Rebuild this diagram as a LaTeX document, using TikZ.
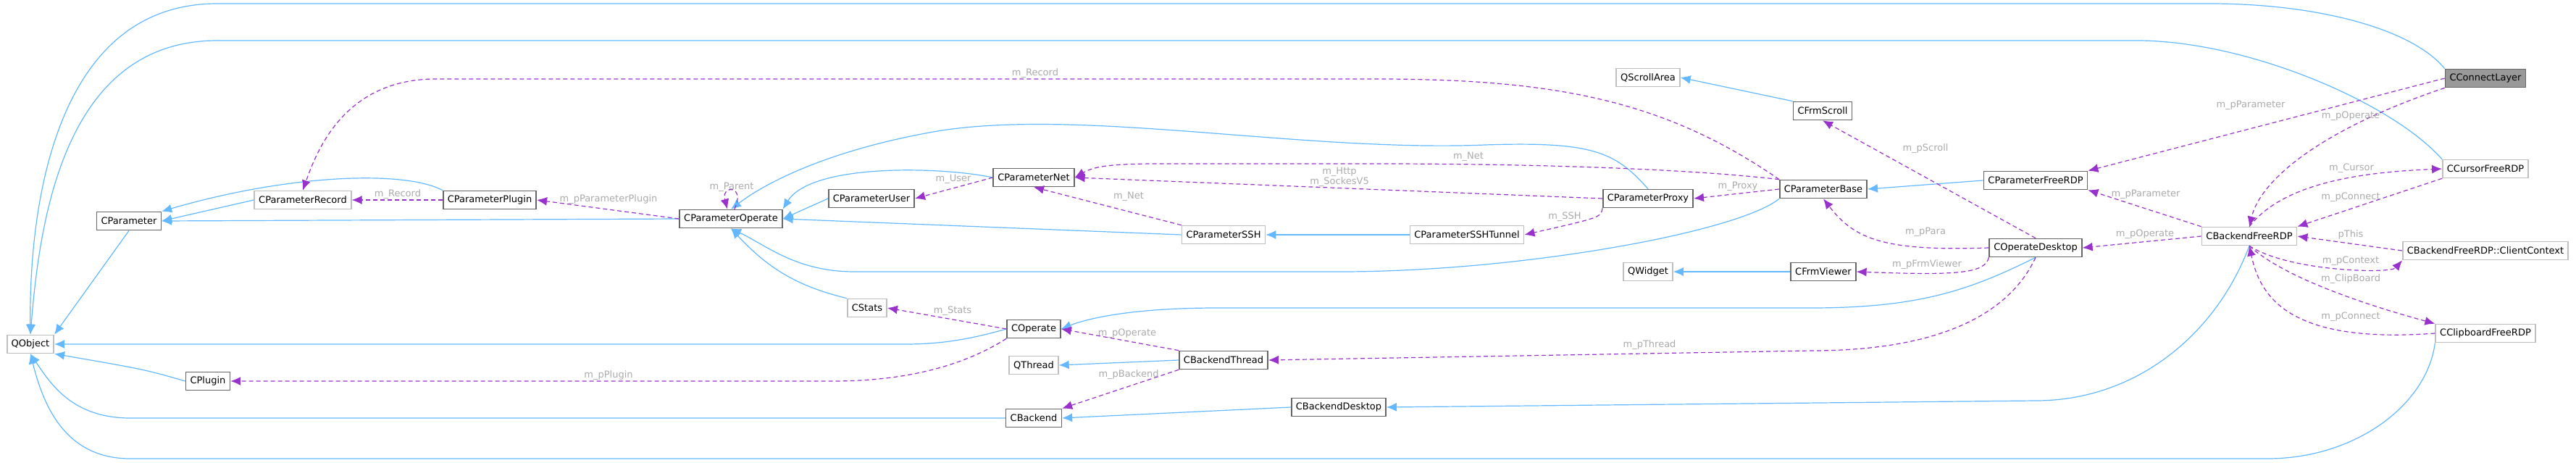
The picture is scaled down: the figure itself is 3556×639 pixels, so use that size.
\documentclass[tikz,border=0pt]{standalone}
\usepackage{fontspec}
\setmainfont{DejaVu Sans}
\usetikzlibrary{arrows.meta}

\definecolor{inhblue}{RGB}{99,184,255}
\definecolor{usepurple}{RGB}{153,50,204}
\definecolor{dkframe}{RGB}{102,102,102}
\definecolor{ltframe}{RGB}{191,191,191}
\definecolor{lblgray}{RGB}{170,170,170}

\tikzset{
  every picture/.style={line width=1.2pt},
  cls/.style={draw=dkframe, line width=1.6pt, fill=white, minimum height=25pt, inner xsep=6pt, font=\fontsize{13}{15}\selectfont},
  ext/.style={cls, draw=ltframe},
  inh/.style={draw=inhblue, -{Latex[length=14pt,width=12pt]}},
  use/.style={draw=usepurple, dashed, dash pattern={on 6pt off 4pt}, -{Latex[length=14pt,width=12pt]}},
  lbl/.style={text=lblgray, inner sep=0pt, font=\fontsize{13}{14}\selectfont, align=center}
}

\begin{document}
\begin{tikzpicture}[x=1pt,y=1pt,yscale=-1,xscale=1]
\useasboundingbox (0,0) rectangle (3556,639);

% classes
\node [ext] (qobj) at (42,475) {QObject};
\node [cls] (param) at (178,305) {CParameter};
\node [ext] (precord) at (418,276) {CParameterRecord};
\node [cls] (pplugin) at (676,276) {CParameterPlugin};
\node [cls] (poperate) at (1009,302) {CParameterOperate};
\node [cls] (plugin) at (287,526) {CPlugin};
\node [cls] (puser) at (1203,274) {CParameterUser};
\node [cls] (pnet) at (1427,245) {CParameterNet};
\node [ext] (pssh) at (1689,324) {CParameterSSH};
\node [ext] (ptunnel) at (2025,324) {CParameterSSHTunnel};
\node [cls] (pproxy) at (2275,274) {CParameterProxy};
\node [ext] (qscroll) at (2275,107) {QScrollArea};
\node [ext] (qwidget) at (2275,375) {QWidget};
\node [ext] (stats) at (1197,425) {CStats};
\node [cls] (operate) at (1427,454) {COperate};
\node [ext] (qthread) at (1427,504) {QThread};
\node [cls] (bthread) at (1689,497) {CBackendThread};
\node [cls] (backend) at (1427,577) {CBackend};
\node [cls] (bdesktop) at (1848,562) {CBackendDesktop};
\node [cls, fill={rgb,255:red,153;green,153;blue,153}] (clayer) at (3431,108) {CConnectLayer};
\node [cls] (fscroll) at (2516,153) {CFrmScroll};
\node [cls] (pfreerdp) at (2810,249) {CParameterFreeRDP};
\node [cls] (pbase) at (2517,261) {CParameterBase};
\node [ext] (cursor) at (3431,233) {CCursorFreeRDP};
\node [ext] (bfreerdp) at (3105,326) {CBackendFreeRDP};
\node [cls] (odesktop) at (2810,342) {COperateDesktop};
\node [cls] (fviewer) at (2517,375) {CFrmViewer};
\node [ext] (context) at (3431,346) {CBackendFreeRDP::ClientContext};
\node [ext] (clipboard) at (3431,460) {CClipboardFreeRDP};

% inheritance
\draw [inh] (clayer.north west) .. controls (3330,40) and (3200,5) .. (3050,5) -- (300,5) .. controls (70,5) and (40,300) .. (qobj.north);
\draw [inh] (cursor.north west) .. controls (3300,140) and (3100,56) .. (2950,56) -- (300,56) .. controls (90,56) and (55,300) .. (qobj.north);
\draw [inh] (clipboard.south west) .. controls (3350,560) and (3250,633) .. (3130,633) -- (180,633) .. controls (90,633) and (60,560) .. (qobj.south);
\draw [inh] (backend.west) -- (180,577) .. controls (100,577) and (70,530) .. (qobj.south);
\draw [inh] (operate.west) .. controls (1340,468) and (1300,475) .. (1250,475) -- (qobj.east);
\draw [inh] (plugin.west) .. controls (200,510) .. (qobj.south east);
\draw [inh] (param.south) -- (qobj.north east);
\draw [inh] (precord.west) -- (param.east);
\draw [inh] (pplugin.north west) .. controls (560,235) and (400,240) .. (param.north east);
\draw [inh] (poperate.west) -- (param.east);
\draw [inh] (puser.west) -- (poperate.east);
\draw [inh] (pnet.west) .. controls (1300,230) and (1120,225) .. (poperate.north east);
\draw [inh] (pproxy.north) .. controls (2230,210) and (2200,195) .. (2050,200) .. controls (1800,210) and (1500,150) .. (1300,180) .. controls (1150,205) and (1060,250) .. (poperate.north);
\draw [inh] (pssh.west) -- (poperate.east);
\draw [inh] (pbase.south west) .. controls (2400,320) and (2100,375) .. (1850,375) -- (1180,375) .. controls (1100,375) and (1060,340) .. (poperate.south);
\draw [inh] (stats.north west) .. controls (1100,395) and (1060,370) .. (poperate.south);
\draw [inh] (ptunnel.west) -- (pssh.east);
\draw [inh] (fscroll.north west) -- (qscroll.east);
\draw [inh] (fviewer.west) -- (qwidget.east);
\draw [inh] (pfreerdp.west) -- (pbase.east);
\draw [inh] (odesktop.south) .. controls (2720,400) and (2650,425) .. (2500,425) -- (1680,425) .. controls (1560,425) and (1500,440) .. (operate.east);
\draw [inh] (bthread.west) -- (qthread.east);
\draw [inh] (bdesktop.west) -- (backend.east);
\draw [inh] (bfreerdp.south) .. controls (3060,460) and (2950,553) .. (2810,553) -- (bdesktop.east);

% usage
\draw [use] (pbase.north west) .. controls (2300,140) and (2150,109) .. (1900,109) -- (600,109) .. controls (480,110) and (440,200) .. (precord.north);
\draw [use] (pplugin.west) -- (precord.east);
\draw [use] (poperate.west) -- (pplugin.east);
\draw [use] (poperate.70) .. controls (1030,255) and (995,255) .. (poperate.110);
\draw [use] (operate.south west) .. controls (1330,505) and (1250,526) .. (1150,526) -- (plugin.east);
\draw [use] (pnet.west) -- (puser.east);
\draw [use] (pbase.north west) .. controls (2350,235) and (2150,226) .. (1900,226) -- (1600,226) .. controls (1530,226) and (1510,230) .. (pnet.east);
\draw [use] (pproxy.west) -- (pnet.east);
\draw [use] (pssh.north west) -- (pnet.south);
\draw [use] (pproxy.south west) .. controls (2210,300) .. (ptunnel.east);
\draw [use] (pbase.west) -- (pproxy.east);
\draw [use] (operate.west) -- (stats.east);
\draw [use] (bthread.north west) -- (operate.east);
\draw [use] (bthread.south west) -- (backend.north east);
\draw [use] (odesktop.south) .. controls (2780,420) and (2700,484) .. (2500,484) -- (bthread.east);
\draw [use] (odesktop.north) -- (fscroll.south);
\draw [use] (odesktop.west) .. controls (2600,347) and (2560,330) .. (pbase.south);
\draw [use] (odesktop.south west) .. controls (2740,378) and (2700,380) .. (fviewer.east);
\draw [use] (bfreerdp.west) -- (odesktop.east);
\draw [use] (bfreerdp.north west) -- (pfreerdp.south east);
\draw [use] (clayer.west) -- (pfreerdp.north east);
\draw [use] (clayer.south west) .. controls (3200,180) and (3120,250) .. (bfreerdp.north);
\draw [use] (bfreerdp.north) .. controls (3150,255) and (3250,238) .. (cursor.west);
\draw [use] (cursor.south west) -- (bfreerdp.north east);
\draw [use] (context.west) -- (bfreerdp.east);
\draw [use] (bfreerdp.south) .. controls (3160,375) and (3300,378) .. (context.south west);
\draw [use] (bfreerdp.south) .. controls (3160,390) and (3300,430) .. (clipboard.north west);
\draw [use] (clipboard.west) .. controls (3160,475) and (3120,410) .. (bfreerdp.south);

% labels
\node [lbl] (lrec) at (1429,101) {m\_Record};
\node [lbl] (lrec2) at (549,268) {m\_Record};
\node [lbl] (lplug) at (840,275) {m\_pParameterPlugin};
\node [lbl] (lparent) at (1010,258) {m\_Parent};
\node [lbl] (lpplugin) at (840,518) {m\_pPlugin};
\node [lbl] (luser) at (1316,247) {m\_User};
\node [lbl] (lnet) at (2027,216) {m\_Net};
\node [lbl] (lhttp) at (1849,244) {m\_Http\\m\_SockesV5};
\node [lbl] (lnet2) at (1558,271) {m\_Net};
\node [lbl] (lssh) at (2160,299) {m\_SSH};
\node [lbl] (lstats) at (1315,429) {m\_Stats};
\node [lbl] (lop) at (1556,460) {m\_pOperate};
\node [lbl] (lbackend) at (1558,517) {m\_pBackend};
\node [lbl] (lthread) at (2277,476) {m\_pThread};
\node [lbl] (lproxy) at (2399,257) {m\_Proxy};
\node [lbl] (lscroll) at (2658,205) {m\_pScroll};
\node [lbl] (lpara) at (2658,320) {m\_pPara};
\node [lbl] (lviewer) at (2660,365) {m\_pFrmViewer};
\node [lbl] (lparam) at (3107,145) {m\_pParameter};
\node [lbl] (lop2) at (3245,160) {m\_pOperate};
\node [lbl] (lparam2) at (2962,268) {m\_pParameter};
\node [lbl] (lop3) at (2961,323) {m\_pOperate};
\node [lbl] (lcursor) at (3246,232) {m\_Cursor};
\node [lbl] (lconn) at (3245,272) {m\_pConnect};
\node [lbl] (lthis) at (3245,324) {pThis};
\node [lbl] (lcontext) at (3245,360) {m\_pContext};
\node [lbl] (lclip) at (3245,385) {m\_ClipBoard};
\node [lbl] (lconn2) at (3245,437) {m\_pConnect};

\end{tikzpicture}
\end{document}
